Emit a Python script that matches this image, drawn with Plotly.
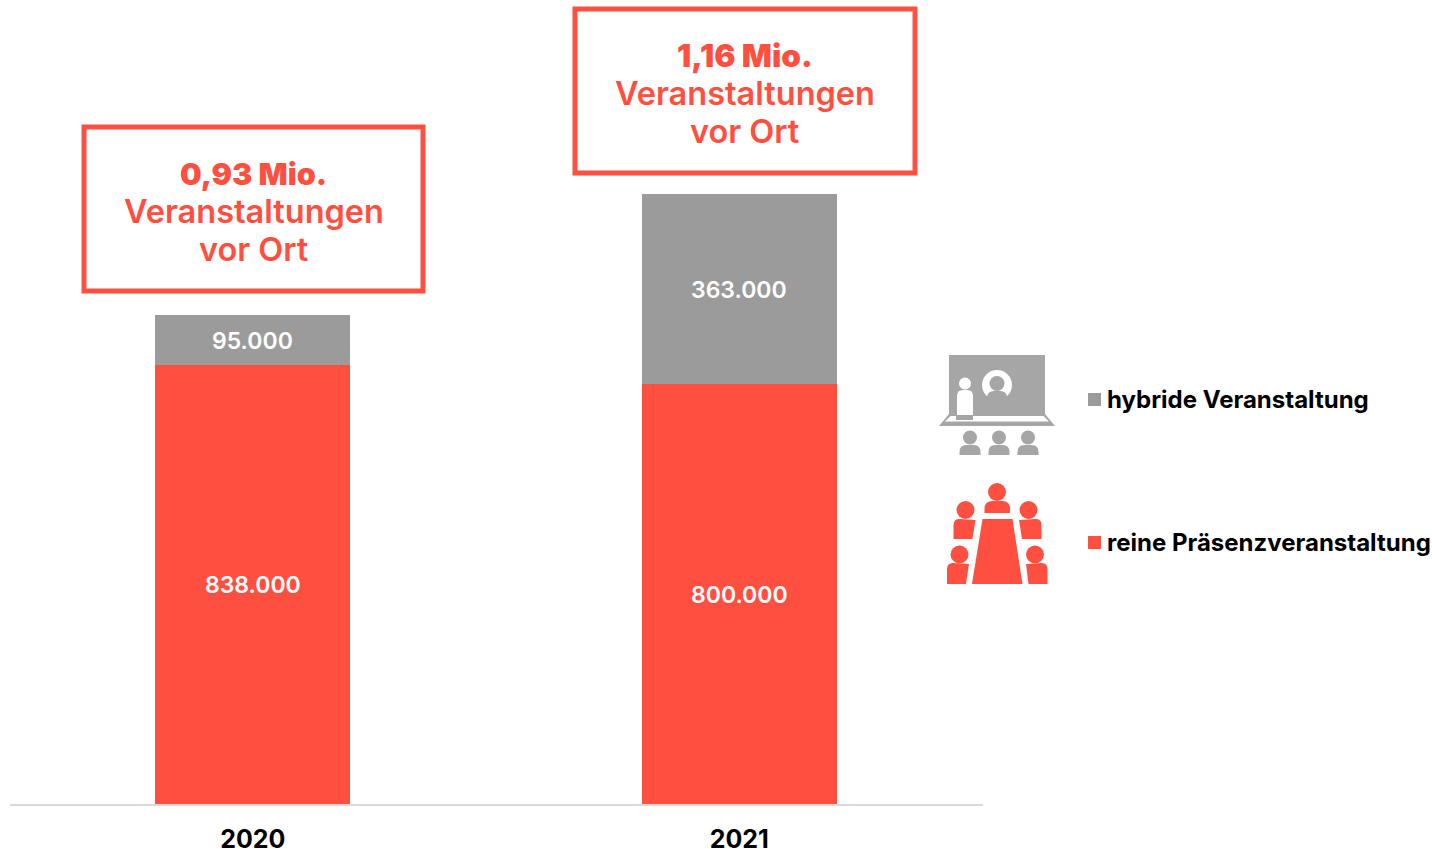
import plotly.graph_objects as go

W, H = 1432, 849
RED = "#FF4F40"
GREY = "#9C9B9C"
ICON = "#A6A6A6"
FONT = "Inter"

years = ["2020", "2021"]
praesenz = [838000, 800000]
hybrid = [95000, 363000]
series_names = ["reine Präsenzveranstaltung", "hybride Veranstaltung"]
callouts = ["0,93 Mio.", "1,16 Mio."]
callout_rest = ["Veranstaltungen", "vor Ort"]


def fmt(v):
    return f"{v:,}".replace(",", ".")


def px(x):
    return x / W


def py(y):
    return 1 - y / H


def poly(pts, color):
    path = "M " + " L ".join(f"{px(x):.5f},{py(y):.5f}" for x, y in pts) + " Z"
    return dict(type="path", xref="paper", yref="paper", path=path,
                fillcolor=color, line=dict(width=0), layer="above")


def circ(cx, cy, r, color):
    return dict(type="circle", xref="paper", yref="paper",
                x0=px(cx - r), x1=px(cx + r), y0=py(cy + r), y1=py(cy - r),
                fillcolor=color, line=dict(width=0), layer="above")


def dome(x0, x1, y0, y1, r, color):
    # rounded-top shoulders
    p = (f"M {px(x0):.5f},{py(y1):.5f} L {px(x0):.5f},{py(y0 + r):.5f} "
         f"Q {px(x0):.5f},{py(y0):.5f} {px(x0 + r):.5f},{py(y0):.5f} "
         f"L {px(x1 - r):.5f},{py(y0):.5f} "
         f"Q {px(x1):.5f},{py(y0):.5f} {px(x1):.5f},{py(y0 + r):.5f} "
         f"L {px(x1):.5f},{py(y1):.5f} Z")
    return dict(type="path", xref="paper", yref="paper", path=p,
                fillcolor=color, line=dict(width=0), layer="above")


def side(x_out, x_top, x_bot, y0, y1, r, color):
    # seated person body: rounded outer corner, slanted inner edge
    s = 1 if x_top > x_out else -1
    p = (f"M {px(x_out):.5f},{py(y1):.5f} L {px(x_out):.5f},{py(y0 + r):.5f} "
         f"Q {px(x_out):.5f},{py(y0):.5f} {px(x_out + s * r):.5f},{py(y0):.5f} "
         f"L {px(x_top):.5f},{py(y0 + 1):.5f} L {px(x_bot):.5f},{py(y1):.5f} Z")
    return dict(type="path", xref="paper", yref="paper", path=p,
                fillcolor=color, line=dict(width=0), layer="above")


def box(x0, y0, x1, y1):
    return dict(type="rect", xref="paper", yref="paper",
                x0=px(x0), x1=px(x1), y0=py(y1), y1=py(y0),
                line=dict(color=RED, width=5), fillcolor="rgba(0,0,0,0)")


def label(text, x, y, size, color, weight, anchor="center"):
    return dict(text=text, xref="paper", yref="paper", x=px(x), y=py(y),
                xanchor=anchor, yanchor="middle", showarrow=False,
                font=dict(family=FONT, size=size, color=color, weight=weight))


fig = go.Figure()
fig.add_bar(x=years, y=praesenz, name=series_names[0], marker_color=RED, marker_line_width=0)
fig.add_bar(x=years, y=hybrid, name=series_names[1], marker_color=GREY, marker_line_width=0)
fig.update_traces(hoverinfo="skip")

shapes = [box(84, 127, 423, 291), box(575, 9, 915, 173)]

# legend swatches
shapes += [
    dict(type="rect", xref="paper", yref="paper", x0=px(1088), x1=px(1101),
         y0=py(406), y1=py(393), fillcolor=GREY, line=dict(width=0)),
    dict(type="rect", xref="paper", yref="paper", x0=px(1088), x1=px(1101),
         y0=py(549), y1=py(536), fillcolor=RED, line=dict(width=0)),
]

# hybrid icon
shapes += [
    poly([(949, 355), (1045, 355), (1045, 414), (949, 414)], ICON),
    poly([(949, 414), (1045, 414), (1055, 426), (939, 426)], ICON),
    poly([(950.5, 416), (1043.5, 416), (1049, 421.5), (945, 421.5)], "white"),
    circ(965, 383.5, 6, "white"),
    dome(957, 973, 390, 415, 6, "white"),
    poly([(956, 415), (973, 415), (973, 420), (956, 420)], ICON),
    circ(997, 385, 15, "white"),
    circ(997, 383.5, 7.5, ICON),
    dome(987, 1007, 391, 401, 7, ICON),
]
for cx in (970, 999, 1028):
    shapes += [circ(cx, 437.5, 7, ICON), dome(cx - 10.5, cx + 10.5, 445, 455, 7, ICON)]

# presence icon
shapes += [
    poly([(982.5, 519), (1012.5, 519), (1022.5, 584), (972, 584)], RED),
    circ(997, 492, 9, RED),
    dome(984.5, 1010, 501, 513, 8, RED),
    circ(965.5, 510, 9, RED),
    side(953.5, 975.5, 972.5, 519, 539, 6, RED),
    circ(1028.5, 510, 9, RED),
    side(1041.5, 1019, 1022, 519, 539, 6, RED),
    circ(959.5, 554.5, 9, RED),
    side(947, 969, 966, 563, 584, 6, RED),
    circ(1035, 554.5, 9, RED),
    side(1047.5, 1026, 1028.5, 563, 584, 6, RED),
]

annotations = []
for cx, ys, head, hs in ((253.5, (173, 211, 250), callouts[0], 30.5),
                         (745, (55, 93, 131), callouts[1], 31.5)):
    annotations.append(label(head, cx, ys[0], hs, RED, 900))
    annotations.append(label(callout_rest[0], cx, ys[1], 32.5, RED, 600))
    annotations.append(label(callout_rest[1], cx, ys[2], 32.5, RED, 600))
annotations.append(label(series_names[1], 1105, 399, 24, "black", 700, "left"))
annotations.append(label(series_names[0], 1105, 542, 24, "black", 700, "left"))

# value labels, placed at the middle of each stacked segment
for i, (low, up) in enumerate(zip(praesenz, hybrid)):
    for val, mid in ((low, low / 2), (up, low + up / 2)):
        annotations.append(dict(text=fmt(val), x=i, y=mid, xref="x", yref="y",
                                showarrow=False, yanchor="middle", yshift=-1,
                                font=dict(family=FONT, size=23, color="white", weight=600)))

fig.update_layout(
    width=W, height=H, autosize=False, barmode="stack", bargap=0.6,
    margin=dict(l=0, r=0, t=0, b=0, autoexpand=False),
    paper_bgcolor="white", plot_bgcolor="white", showlegend=False,
    shapes=shapes, annotations=annotations,
    xaxis=dict(type="category", range=[-0.5, 1.5], domain=[px(9.5), px(982.5)], showline=True,
               linecolor="#D9D9D9", linewidth=2, ticks="", ticklabelstandoff=12, automargin=False,
               tickfont=dict(family=FONT, size=25, color="black", weight=700),
               showgrid=False, zeroline=False),
    yaxis=dict(domain=[py(804), 1], range=[0, 1533000], visible=False, showgrid=False),
)

fig.write_html("out.html", post_script="document.body.style.margin='0';",
               config=dict(displayModeBar=False))
